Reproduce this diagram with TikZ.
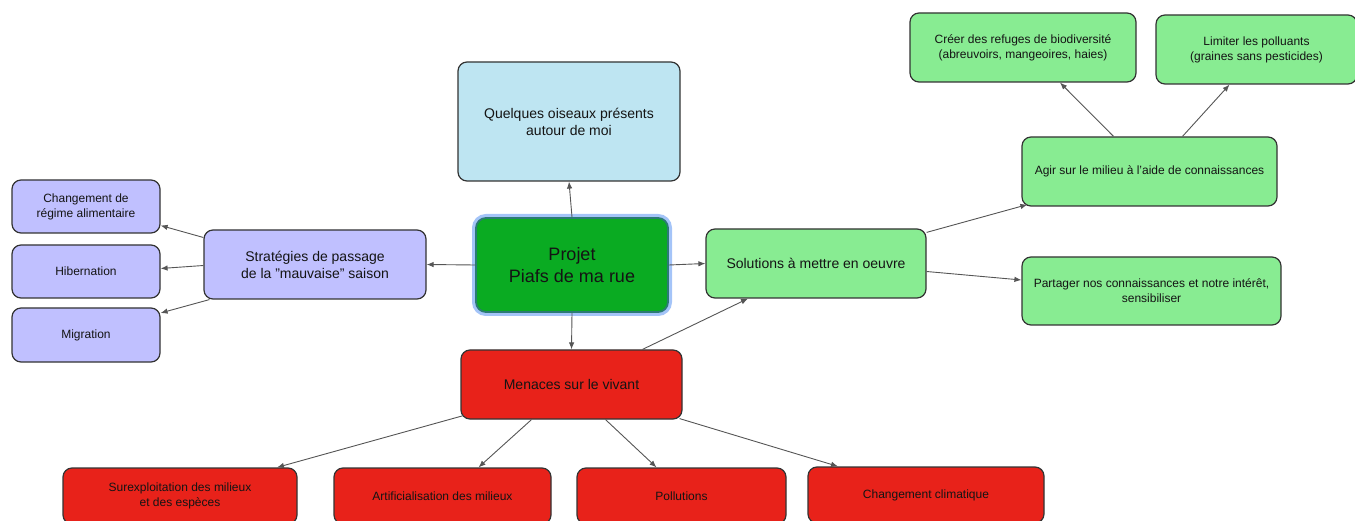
\documentclass[tikz,border=0pt]{standalone}
\usepackage{fontspec}
\setmainfont{Liberation Sans}
\usetikzlibrary{arrows.meta}
\definecolor{lgreen}{RGB}{136,236,146}
\definecolor{dred}{RGB}{232,34,26}
\definecolor{lav}{RGB}{192,192,255}
\definecolor{lblue}{RGB}{190,229,242}
\definecolor{cgreen}{RGB}{10,171,34}
\definecolor{cteal}{RGB}{44,122,116}
\definecolor{glow}{RGB}{164,196,248}
\definecolor{bord}{RGB}{51,51,51}
\definecolor{arrc}{RGB}{85,85,85}
\definecolor{txt}{RGB}{20,20,20}
\tikzset{
  box/.style={draw=bord, line width=1.2pt, rounded corners=9pt, inner sep=0pt, align=center, text=txt},
  small/.style={font=\fontsize{12}{15}\selectfont},
  med/.style={font=\fontsize{14}{17}\selectfont},
  arr/.style={draw=arrc, line width=0.9pt, -{Latex[length=7pt,width=5.5pt]}},
}
\begin{document}
\begin{tikzpicture}[x=1pt,y=-1pt]
\useasboundingbox (0,0) rectangle (1355,521);
\clip (0,0) rectangle (1355,521);
% center
\node[box, draw=cteal, line width=1.8pt, rounded corners=10pt, fill=cgreen,
  preaction={draw=glow, line width=8pt, rounded corners=10pt},
  minimum width=192pt, minimum height=94pt, font=\fontsize{18}{22}\selectfont] (c) at (572,265) {Projet\\Piafs de ma rue};
% top
\node[box, med, fill=lblue, minimum width=222pt, minimum height=119pt] (blue) at (569,121.5) {Quelques oiseaux présents\\autour de moi};
% left
\node[box, med, fill=lav, minimum width=222pt, minimum height=69pt] (strat) at (315,264.5) {Stratégies de passage\\de la "mauvaise" saison};
\node[box, small, fill=lav, minimum width=148pt, minimum height=53pt] (chg) at (86,206.5) {Changement de\\régime alimentaire};
\node[box, small, fill=lav, minimum width=148pt, minimum height=53pt] (hib) at (86,271.5) {Hibernation};
\node[box, small, fill=lav, minimum width=148pt, minimum height=54pt] (mig) at (86,335) {Migration};
% right
\node[box, med, fill=lgreen, minimum width=220pt, minimum height=69pt] (sol) at (816,263.5) {Solutions à mettre en oeuvre};
\node[box, small, fill=lgreen, minimum width=255pt, minimum height=69pt] (agir) at (1149.5,171.5) {Agir sur le milieu à l'aide de connaissances};
\node[box, small, fill=lgreen, minimum width=259pt, minimum height=68pt] (part) at (1151.5,291) {Partager nos connaissances et notre intérêt,\\sensibiliser};
\node[box, small, fill=lgreen, minimum width=226pt, minimum height=69pt] (creer) at (1023,47.5) {Créer des refuges de biodiversité\\(abreuvoirs, mangeoires, haies)};
\node[box, small, fill=lgreen, minimum width=201pt, minimum height=69pt] (lim) at (1256.5,49.5) {Limiter les polluants\\(graines sans pesticides)};
% bottom
\node[box, med, fill=dred, minimum width=221pt, minimum height=69pt] (men) at (571.5,384.5) {Menaces sur le vivant};
\node[box, small, fill=dred, minimum width=234pt, minimum height=56pt] (sur) at (180,496) {Surexploitation des milieux\\et des espèces};
\node[box, small, fill=dred, minimum width=217pt, minimum height=56pt] (art) at (442.5,496) {Artificialisation des milieux};
\node[box, small, fill=dred, minimum width=209pt, minimum height=56pt] (pol) at (681.5,496) {Pollutions};
\node[box, small, fill=dred, minimum width=236pt, minimum height=56pt] (cc) at (926,495) {Changement climatique};
% connectors
\draw[arr] (c.north) -- (blue.south);
\draw[arr] (c.west) -- (strat.east);
\draw[arr] (c.east) -- (sol.west);
\draw[arr] (c.south) -- (men.north);
\draw[arr] ([yshift=27pt]strat.west) -- ([yshift=-19pt]chg.east);
\draw[arr] ([yshift=-1pt]strat.west) -- ([yshift=3pt]hib.east);
\draw[arr] ([xshift=6pt]strat.south west) -- ([yshift=22pt]mig.east);
\draw[arr] ([yshift=-4pt]sol.north east) -- ([xshift=6pt,yshift=2pt]agir.south west);
\draw[arr] ([yshift=-8pt]sol.east) -- ([yshift=11pt]part.west);
\draw[arr] ([xshift=-36pt]agir.north) -- ([xshift=37pt]creer.south);
\draw[arr] ([xshift=33pt]agir.north) -- ([xshift=-27pt]lim.south);
\draw[arr] ([xshift=71pt]men.north) -- ([xshift=-68pt]sol.south);
\draw[arr] ([xshift=3pt,yshift=4pt]men.south west) -- ([xshift=97pt]sur.north);
\draw[arr] ([xshift=-40pt]men.south) -- ([xshift=36pt]art.north);
\draw[arr] ([xshift=34pt]men.south) -- ([xshift=-25pt]pol.north);
\draw[arr] ([xshift=-3pt,yshift=1pt]men.south east) -- ([xshift=-88pt]cc.north);
\end{tikzpicture}
\end{document}
